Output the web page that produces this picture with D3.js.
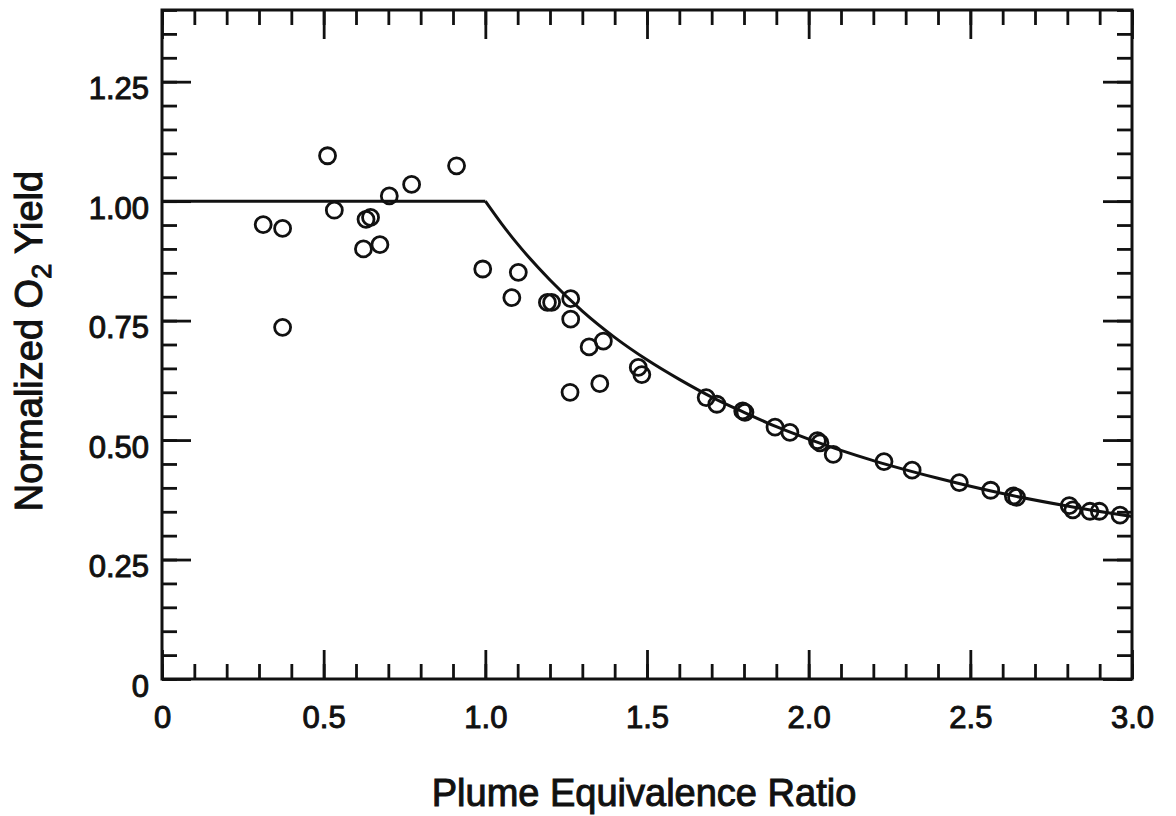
<!DOCTYPE html>
<html>
<head>
<meta charset="utf-8">
<script src="https://cdn.jsdelivr.net/npm/d3@7"></script>
<style>
body { margin: 0; background: #fff; }
svg { display: block; font-family: "Liberation Sans", Arial, Helvetica, sans-serif; }
</style>
</head>
<body>
<div id="chart"></div>
<script>

// data
const phiValues = [0.313, 0.373, 0.373, 0.512, 0.533, 0.623, 0.631, 0.645, 0.674, 0.703, 0.772, 0.911,
    0.992, 1.082, 1.102, 1.192, 1.205, 1.264, 1.264, 1.262, 1.321, 1.365, 1.354, 1.473, 1.484,
    1.683, 1.716, 1.796, 1.803, 1.896, 1.942, 2.027, 2.035, 2.076, 2.233, 2.320,
    2.466, 2.563, 2.633, 2.643, 2.806, 2.817, 2.870, 2.899, 2.963];
const yieldValues = [0.951, 0.943, 0.736, 1.095, 0.981, 0.900, 0.962, 0.966, 0.909, 1.011, 1.035, 1.074,
    0.858, 0.798, 0.851, 0.788, 0.788, 0.796, 0.753, 0.600, 0.695, 0.707, 0.618, 0.652, 0.637,
    0.589, 0.575, 0.561, 0.558, 0.527, 0.516, 0.499, 0.494, 0.470, 0.455, 0.437,
    0.411, 0.395, 0.383, 0.380, 0.363, 0.354, 0.351, 0.351, 0.343];

// fitted line: flat part and decreasing part
const flatPhi = [0, 1.0];
const flatYield = [1.0, 1.0];
const curvePhi = [1.0, 1.05, 1.1, 1.2, 1.3, 1.4, 1.5, 1.6, 1.7, 1.8, 1.9, 2.0, 2.2, 2.4, 2.6, 2.8, 3.0];
const curveYield = [1.0, 0.953, 0.91, 0.835, 0.77, 0.715, 0.668, 0.627, 0.59, 0.558, 0.528, 0.502, 0.457, 0.42, 0.388, 0.362, 0.34];

const xTicks = [0, 0.5, 1.0, 1.5, 2.0, 2.5, 3.0];
const xTickLabels = ["0", "0.5", "1.0", "1.5", "2.0", "2.5", "3.0"];
const yTicks = [0, 0.25, 0.5, 0.75, 1.0, 1.25];
const yTickLabels = ["0", "0.25", "0.50", "0.75", "1.00", "1.25"];

const W = 1176, H = 816;
const margin = {top: 10, right: 44, bottom: 137, left: 162};
const width = W - margin.left - margin.right,
      height = H - margin.top - margin.bottom;

const svg = d3.select("#chart").append("svg")
    .attr("width", W)
    .attr("height", H);

const graph = svg.append("g")
    .attr("transform", `translate(${margin.left},${margin.top})`);

const x = d3.scaleLinear().domain([0, 3]).range([0, width]);
const y = d3.scaleLinear().domain([0, 1.4]).range([height, 0]);

const majorLen = 29, minorLen = 15;
const ink = "#111";

// minor ticks on all four sides (pointing inside)
const minorX = x.ticks(30), minorY = y.ticks(28);
const sides = [
    {axis: d3.axisBottom(x), tr: `translate(0,${height})`, v: minorX},
    {axis: d3.axisTop(x), tr: "translate(0,0)", v: minorX},
    {axis: d3.axisLeft(y), tr: "translate(0,0)", v: minorY},
    {axis: d3.axisRight(y), tr: `translate(${width},0)`, v: minorY}
];
sides.forEach(s => {
    graph.append("g")
        .attr("transform", s.tr)
        .call(s.axis.tickValues(s.v).tickSize(-minorLen).tickFormat(""))
        .call(g => g.select(".domain").remove())
        .selectAll("line").attr("stroke", ink).attr("stroke-width", 2.8);
});

// major ticks
graph.append("g")
    .call(d3.axisTop(x).tickValues(xTicks).tickSize(-majorLen).tickFormat(""))
    .call(g => g.select(".domain").remove())
    .selectAll("line").attr("stroke", ink).attr("stroke-width", 2.8);
graph.append("g").attr("transform", `translate(${width},0)`)
    .call(d3.axisRight(y).tickValues(yTicks).tickSize(-majorLen).tickFormat(""))
    .call(g => g.select(".domain").remove())
    .selectAll("line").attr("stroke", ink).attr("stroke-width", 2.8);

const groupeX = graph.append("g")
    .attr("transform", `translate(0,${height})`)
    .call(d3.axisBottom(x).tickValues(xTicks).tickSize(-majorLen).tickPadding(27)
        .tickFormat((d, i) => xTickLabels[i]));
const groupeY = graph.append("g")
    .call(d3.axisLeft(y).tickValues(yTicks).tickSize(-majorLen).tickPadding(13)
        .tickFormat((d, i) => yTickLabels[i]));

[groupeX, groupeY].forEach(g => {
    g.select(".domain").remove();
    g.selectAll("line").attr("stroke", ink).attr("stroke-width", 2.8);
    g.selectAll("text")
        .attr("fill", ink)
        .attr("stroke", ink)
        .attr("stroke-width", 1)
        .style("font-size", "31px");
});
groupeY.selectAll("text").attr("dy", "0.55em");

// frame
graph.append("rect")
    .attr("width", width)
    .attr("height", height)
    .attr("fill", "none")
    .attr("stroke", ink)
    .attr("stroke-width", 3);

// fitted line
const line = d3.line().x(d => x(d[0])).y(d => y(d[1]));
graph.append("path")
    .datum(flatPhi.map((d, i) => [d, flatYield[i]]))
    .attr("fill", "none")
    .attr("stroke", ink)
    .attr("stroke-width", 3)
    .attr("d", line);
graph.append("path")
    .datum(curvePhi.map((d, i) => [d, curveYield[i]]))
    .attr("fill", "none")
    .attr("stroke", ink)
    .attr("stroke-width", 3)
    .attr("d", line.curve(d3.curveMonotoneX));

// measured points
graph.selectAll("circle.pt")
    .data(phiValues)
    .enter()
    .append("circle")
    .attr("class", "pt")
    .attr("cx", d => x(d))
    .attr("cy", (d, i) => y(yieldValues[i]))
    .attr("r", 8)
    .attr("fill", "none")
    .attr("stroke", ink)
    .attr("stroke-width", 2.8);

// axis titles
svg.append("text")
    .attr("x", 644)
    .attr("y", 806)
    .attr("text-anchor", "middle")
    .attr("fill", ink)
    .attr("stroke", ink)
    .attr("stroke-width", 1)
    .style("font-size", "38px")
    .text("Plume Equivalence Ratio");

const yTitle = svg.append("text")
    .attr("transform", "translate(42,341) rotate(-90)")
    .attr("text-anchor", "middle")
    .attr("fill", ink)
    .attr("stroke", ink)
    .attr("stroke-width", 1)
    .style("font-size", "38px");
yTitle.append("tspan").text("Normalized O");
yTitle.append("tspan").attr("dy", 9).style("font-size", "27px").text("2");
yTitle.append("tspan").attr("dy", -9).text(" Yield");

</script>
</body>
</html>
